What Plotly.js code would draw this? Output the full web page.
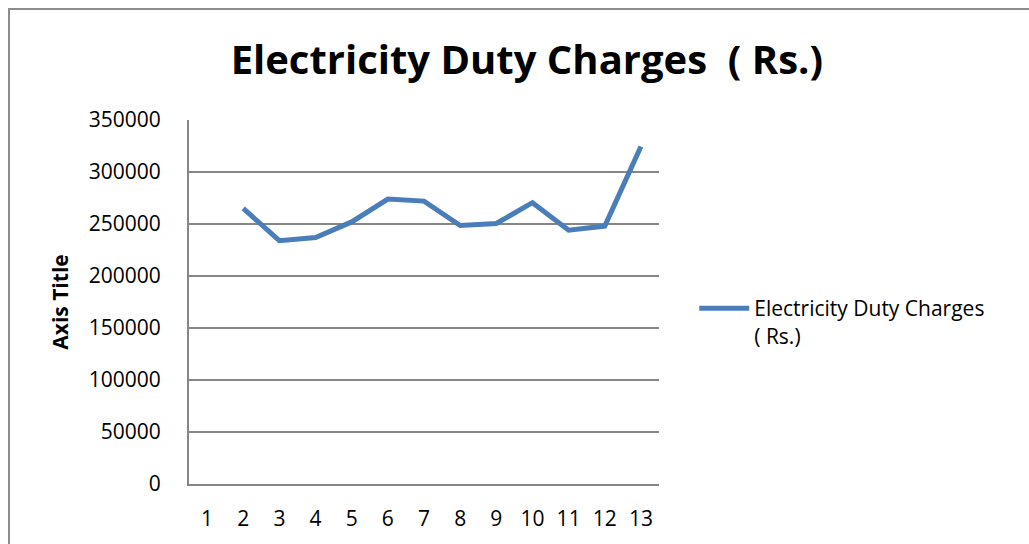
<!DOCTYPE html>
<html>
<head>
<meta charset="utf-8">
<script src="https://cdn.plot.ly/plotly-3.0.1.min.js"></script>
<style>
  html, body { margin: 0; padding: 0; background: #ffffff; overflow: hidden; }
  #frame { position: absolute; left: 8px; top: 8px; width: 1100px; height: 600px; border: 2px solid #8c8c8c; box-sizing: border-box; }
  #chart { position: absolute; left: 0; top: 0; width: 1029px; height: 544px; }
</style>
</head>
<body>
<div id="frame"></div>
<div id="chart"></div>
<script>
const categories = ['1','2','3','4','5','6','7','8','9','10','11','12','13'];
const dutyCharges = [null, 265000, 234000, 237000, 252000, 274000, 272000, 248500, 250500, 270500, 244000, 248000, 324500];
const seriesName = 'Electricity Duty Charges<br>( Rs.)';
const yTicks = [0, 50000, 100000, 150000, 200000, 250000, 300000, 350000];

const fontFam = 'Open Sans, Lato, sans-serif';

const trace = {
  type: 'scatter',
  mode: 'lines',
  x: categories,
  y: dutyCharges,
  name: seriesName,
  line: { color: '#4a7ebb', width: 5 },
  connectgaps: false,
  showlegend: true
};

const layout = {
  width: 1029,
  height: 544,
  paper_bgcolor: 'rgba(0,0,0,0)',
  plot_bgcolor: 'rgba(0,0,0,0)',
  margin: { l: 189, r: 370, t: 120, b: 60 },
  title: {
    text: '<b>Electricity Duty Charges  ( Rs.)</b>',
    font: { family: fontFam, size: 40, color: '#000000' },
    x: 0.512, xanchor: 'center', xref: 'container',
    y: 0.89, yanchor: 'middle', yref: 'container'
  },
  xaxis: {
    type: 'category',
    range: [-0.5, 12.5],
    showgrid: false,
    showline: true,
    linecolor: '#868686',
    linewidth: 2,
    ticks: '',
    ticklabelstandoff: 15,
    tickfont: { family: fontFam, size: 21, color: '#000000' },
    zeroline: false,
    fixedrange: true
  },
  yaxis: {
    range: [0, 350000],
    tickvals: yTicks,
    ticktext: yTicks.map(String),
    showgrid: true,
    gridcolor: '#868686',
    gridwidth: 1.5,
    showline: true,
    linecolor: '#868686',
    linewidth: 2,
    zeroline: false,
    ticks: '',
    ticklabelstandoff: 22,
    tickfont: { family: fontFam, size: 21, color: '#000000' },
    title: {
      text: '<b>Axis Title</b>',
      font: { family: fontFam, size: 21, color: '#000000' },
      standoff: 14
    },
    fixedrange: true
  },
  legend: {
    x: 1.075, xanchor: 'left',
    y: 0.445, yanchor: 'middle',
    valign: 'top',
    font: { family: fontFam, size: 21, color: '#000000' },
    bgcolor: 'rgba(0,0,0,0)',
    itemwidth: 50
  },
  showlegend: true
};

Plotly.newPlot('chart', [trace], layout, { displayModeBar: false, staticPlot: true });
</script>
</body>
</html>
